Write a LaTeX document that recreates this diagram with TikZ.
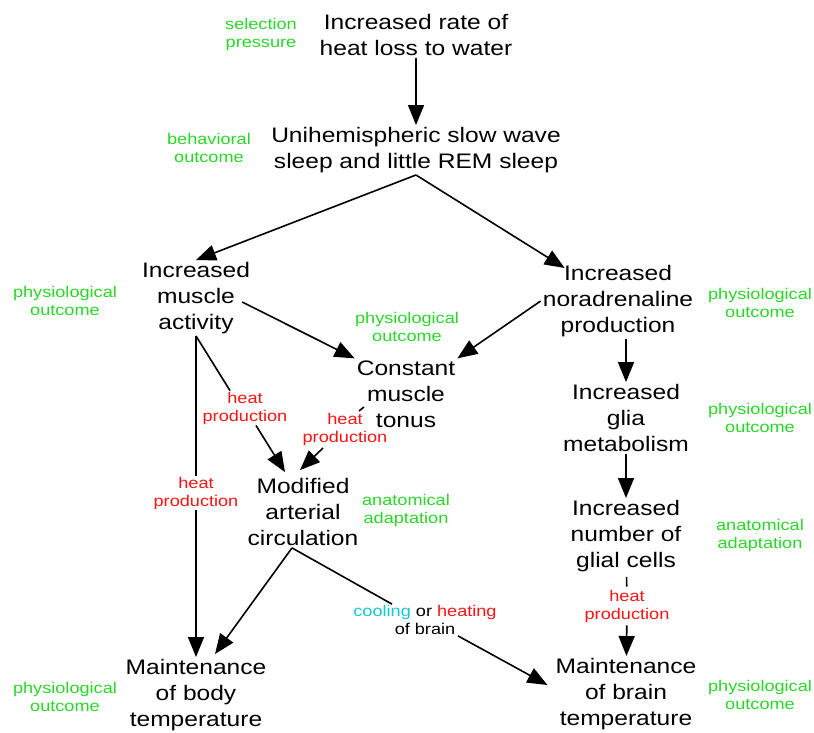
\documentclass[tikz,border=0pt]{standalone}
\usepackage{fontspec}
\setmainfont{Liberation Sans}[FakeStretch=1.17]
\usetikzlibrary{arrows.meta,calc}
\definecolor{lblgreen}{RGB}{40,215,40}
\definecolor{heatred}{RGB}{250,20,20}
\definecolor{coolcyan}{RGB}{20,200,205}
\newcommand\mainfs{\fontsize{21}{26}\selectfont}
\newcommand\notefs{\fontsize{15.5}{18}\selectfont}
\begin{document}
\begin{tikzpicture}[x=1pt,y=-1pt,
  main/.style={align=center,font=\mainfs,inner sep=2pt},
  note/.style={align=center,font=\notefs,text=lblgreen,inner sep=1pt},
  heat/.style={align=center,font=\notefs,text=heatred,inner sep=1pt},
  conn/.style={line width=1.6pt},
  arr/.style={conn,-{Triangle[length=20pt,width=16pt]}}]
\useasboundingbox (0,0) rectangle (814,732);

% nodes
\node[main] (n1) at (416,35) {Increased rate of\\heat loss to water};
\node[note] (g1) at (261,34) {selection\\pressure};
\node[main] (n2) at (416,150) {Unihemispheric slow wave\\sleep and little REM sleep};
\node[note] (g2) at (209,148) {behavioral\\outcome};
\node[main] (n3) at (196,298) {Increased\\muscle\\activity};
\node[note] (g3) at (65,301) {physiological\\outcome};
\node[main] (n4) at (618,301) {Increased\\noradrenaline\\production};
\node[note] (g4) at (760,303) {physiological\\outcome};
\node[note] (g5) at (407,327) {physiological\\outcome};
\node[main] (n5) at (406,394) {Constant\\muscle\\tonus};
\node[main] (n6) at (626,418) {Increased\\glia\\metabolism};
\node[note] (g6) at (760,418) {physiological\\outcome};
\node[heat] (h1) at (245,408) {heat\\production};
\node[heat] (h2) at (345,429) {heat\\production};
\node[heat] (h3) at (196,493) {heat\\production};
\node[main] (n7) at (303,512) {Modified\\arterial\\circulation};
\node[note] (g7) at (406,510) {anatomical\\adaptation};
\node[main] (n8) at (626,536) {Increased\\number of\\glial cells};
\node[note] (g8) at (760,535) {anatomical\\adaptation};
\node[heat] (h4) at (627,606) {heat\\production};
\node[align=center,font=\notefs,inner sep=1pt] (cb) at (425,620)
  {{\color{coolcyan}cooling} or {\color{heatred}heating}\\of brain};
\node[main] (n9) at (196,695) {Maintenance\\of body\\temperature};
\node[note] (g9) at (65,697) {physiological\\outcome};
\node[main] (n10) at (626,694) {Maintenance\\of brain\\temperature};
\node[note] (g10) at (760,695) {physiological\\outcome};

% connectors
\draw[arr] (n1) -- (n2);
\draw[arr] (n2.south) -- (n3.north);
\draw[arr] (n2.south) -- ($(n4.north west)+(24,5)$);
\draw[arr] ($(n3.east)+(-10,4)$) -- (n5.north west);
\draw[arr] (n4.west) -- (n5.north east);
\draw[arr] (n6.north |- n4.south) -- (n6.north);
\draw[arr] (n6) -- (n8);
\draw[conn,shorten <=3pt,shorten >=2pt] (n8) -- (h4);
\draw[arr,shorten <=2pt] (h4) -- (n10);
\draw[conn] (n3.south) -- (n3.south |- h3.north);
\draw[arr] (n3.south |- h3.south) -- (n9.north);
\draw[conn] (n3.south) -- ($(h1.north)+(-15,0)$);
\draw[arr] ($(h1.south)+(11,0)$) -- ($(n7.north)+(-18,-4)$);
\draw[conn] ($(h2)+(19,-22)$) -- ($(h2)+(14,-18)$);
\draw[arr] ($(h2)+(-22,19)$) -- ($(n7.north)+(-3,-6)$);
\coordinate (c7) at ($(n7.south)+(-11,0)$);
\draw[arr] (c7) -- ($(n9.north)+(19,-3)$);
\draw[conn] (c7) -- ($(cb.north)+(-33,0)$);
\draw[arr] ($(cb.south)+(33,0)$) -- ($(n10.west)+(-6,-9)$);
\end{tikzpicture}
\end{document}
